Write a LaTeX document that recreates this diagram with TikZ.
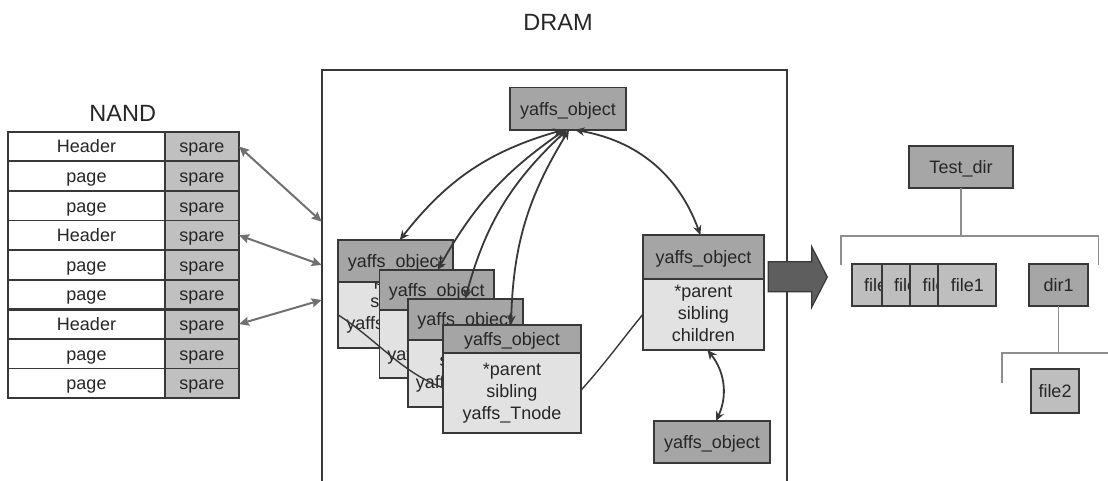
\documentclass[tikz,border=0pt]{standalone}
\usepackage{fontspec}
\setmainfont{Liberation Sans}
\usetikzlibrary{arrows.meta,calc}

\definecolor{ink}{HTML}{262626}
\definecolor{edge}{HTML}{383838}
\definecolor{hdrgray}{HTML}{A5A5A5}
\definecolor{bodygray}{HTML}{E2E2E2}
\definecolor{sparegray}{HTML}{C0C0C0}
\definecolor{filegray}{HTML}{BEBEBE}
\definecolor{dirgray}{HTML}{A6A6A6}
\definecolor{linkgray}{HTML}{707070}
\definecolor{treegray}{HTML}{8E8E8E}
\definecolor{blockgray}{HTML}{5E5E5E}

\begin{document}
\begin{tikzpicture}[x=1pt,y=-1pt,
  txt/.style={font=\fontsize{18}{22}\selectfont, text=ink},
  title/.style={font=\fontsize{23.5}{26}\selectfont, text=ink},
  cell/.style={draw=edge, line width=1.7pt, inner sep=0pt, outer sep=0pt,
               txt, text height=12.9pt, text depth=0pt},
  pagecell/.style={cell, fill=white, minimum width=157, minimum height=29.6},
  sparecell/.style={cell, fill=sparegray, minimum width=74, minimum height=29.6},
  hdr/.style={cell, fill=hdrgray},
  bdy/.style={cell, fill=bodygray},
  lines/.style={txt, align=center, inner sep=0pt},
  link/.style={draw=edge, line width=1.8pt, {Stealth[length=9.5pt,width=8.5pt]}-{Stealth[length=9.5pt,width=8.5pt]}},
  nlink/.style={draw=linkgray, line width=2pt, {Stealth[length=10pt,width=9pt,inset=1.5pt]}-{Stealth[length=10pt,width=9pt,inset=1.5pt]}},
  sib/.style={draw=edge, line width=1.4pt},
  branch/.style={draw=treegray, line width=1.6pt},
  filebox/.style={cell, fill=filegray},
  dirbox/.style={cell, fill=dirgray}
]
\useasboundingbox (0,0) rectangle (1108,481);

% ---------------- titles ----------------
\node[title] (nandtitle) at (122.7,113) {NAND};
\node[title] (dramtitle) at (558,22) {DRAM};

% ---------------- NAND block table ----------------
\foreach \i/\t in {1/Header,2/page,3/page,4/Header,5/page,6/page,7/Header,8/page,9/page}{
  \node[pagecell]  (p\i) at (86.5,{131.7+29.6*(\i-0.5)}) {\t};
  \node[sparecell] (s\i) at (202, {131.7+29.6*(\i-0.5)}) {spare};
}
\draw[edge, line width=2.6pt] (p6.south west) -- (s6.south east);

% ---------------- DRAM frame (open at the bottom) ----------------
\coordinate (dbl) at (321.7,481);
\coordinate (dtl) at (321.7,70);
\coordinate (dtr) at (786.7,70);
\coordinate (dbr) at (786.7,481);
\draw[edge, line width=1.7pt] (dbl) -- (dtl) -- (dtr) -- (dbr);
\coordinate (d1) at (321.7,221.7);
\coordinate (d2) at (321.7,265);
\coordinate (d3) at (321.7,300);

% ---------------- yaffs objects ----------------
\node[hdr, minimum width=116, minimum height=42.3] (top) at (568,108.8) {yaffs\_object};

% stacked file objects: body and fields first, header laid over them
\node[bdy, minimum width=115, minimum height=66.6] (o1b) at (395.8,315) {};
\node[lines] (o1t) at (395.8,303) {*parent\\sibling\\yaffs\_Tnode};
\node[hdr, minimum width=115, minimum height=41.7] (o1h) at (395.8,260.85) {yaffs\_object};

\node[bdy, minimum width=114.7, minimum height=68.3] (o2b) at (436.7,344.15) {};
\node[lines] (o2t) at (436.7,334.5) {*parent\\sibling\\yaffs\_Tnode};
\node[hdr, minimum width=114.7, minimum height=40] (o2h) at (436.7,290) {yaffs\_object};

\node[bdy, minimum width=115, minimum height=67.3] (o3b) at (465.2,373.65) {};
\node[lines] (o3t) at (465.2,362) {*parent\\sibling\\yaffs\_Tnode};
\node[hdr, minimum width=115, minimum height=41] (o3h) at (465.2,319.5) {yaffs\_object};

% directory object
\node[hdr, minimum width=121.3, minimum height=44] (rh) at (703.4,257) {yaffs\_object};
\node[bdy, minimum width=121.3, minimum height=71] (rb) at (703.4,314.5) {};
\node[lines] (rt) at (703.4,313.5) {*parent\\sibling\\children};

% sibling chain running behind the front object
\draw[sib] (o1b.west) .. controls (385,345) and (410,385) .. (470,395)
           -- (560,412) .. controls (595,378) and (620,342) .. (rb.west);

\node[hdr, minimum width=137.4, minimum height=28.3] (o4h) at (512,339.15) {yaffs\_object};
\node[bdy, minimum width=137.4, minimum height=80] (o4b) at (512,393.3) {};
\node[lines] (o4t) at (512,393.3) {*parent\\sibling\\yaffs\_Tnode};

\node[hdr, minimum width=116, minimum height=41.7] (bot) at (712,441.85) {yaffs\_object};

% ---------------- links between objects ----------------
\draw[link] ($(top.south)+(-5,0)$) to[bend right=18] ($(o1h.north)+(4,0)$);
\draw[link] ($(top.south)+(-3,0)$) to[bend right=13] ($(o2h.north)+(1,0)$);
\draw[link] ($(top.south)+(-1,0)$) to[bend right=16] (o3h.north);
\draw[link] ($(top.south)+(1,0)$)  to[bend right=15] ($(o4h.north)+(-1,0)$);
\draw[link] ($(top.south)+(7,0)$)  to[bend left=30]  ($(rh.north)+(-3,0)$);
\draw[link] ($(rb.south)+(4,0)$)   to[bend left=32]  ($(bot.north)+(4,0)$);

% ---------------- NAND spare areas to DRAM ----------------
\draw[nlink] (s1.east) -- (d1);
\draw[nlink] (s4.east) -- (d2);
\draw[nlink] (s7.east) -- (d3);

% ---------------- block arrow to the directory tree ----------------
\draw[draw=edge, fill=blockgray, line width=1.2pt, line join=miter]
  (768.3,261.7) -- (811.7,261.7) -- (811.7,246.7) -- (827.3,277)
  -- (811.7,307.3) -- (811.7,291.7) -- (768.3,291.7) -- cycle;

% ---------------- directory tree ----------------
\node[dirbox, minimum width=103.4, minimum height=42.3] (td) at (961,167.2) {Test\_dir};

\node[filebox, minimum width=58, minimum height=42] (fa) at (880.7,285) {file1};
\node[filebox, minimum width=58, minimum height=42] (fb) at (910.7,285) {file1};
\node[filebox, minimum width=58, minimum height=42] (fc) at (939.2,285) {file1};
\node[filebox, minimum width=58, minimum height=42] (f1) at (967.3,285) {file1};
\node[dirbox, minimum width=58.4, minimum height=42] (d1n) at (1058.5,285) {dir1};
\node[filebox, minimum width=48.6, minimum height=43.4] (f2) at (1055,391) {file2};

\coordinate (bar) at (0,236);
\coordinate (bl) at (840.7,265);
\coordinate (br) at (1098.3,265);
\draw[branch] (td.south) -- (td.south |- bar);
\draw[branch] (bl) -- (bl |- bar) -- (br |- bar) -- (br);

\coordinate (bar2) at (0,352.7);
\coordinate (bl2) at (1001.7,382.7);
\coordinate (br2) at (1108,352.7);
\draw[branch] (d1n.south) -- (d1n.south |- bar2);
\draw[branch] (bl2) -- (bl2 |- bar2) -- (br2);
\end{tikzpicture}
\end{document}
